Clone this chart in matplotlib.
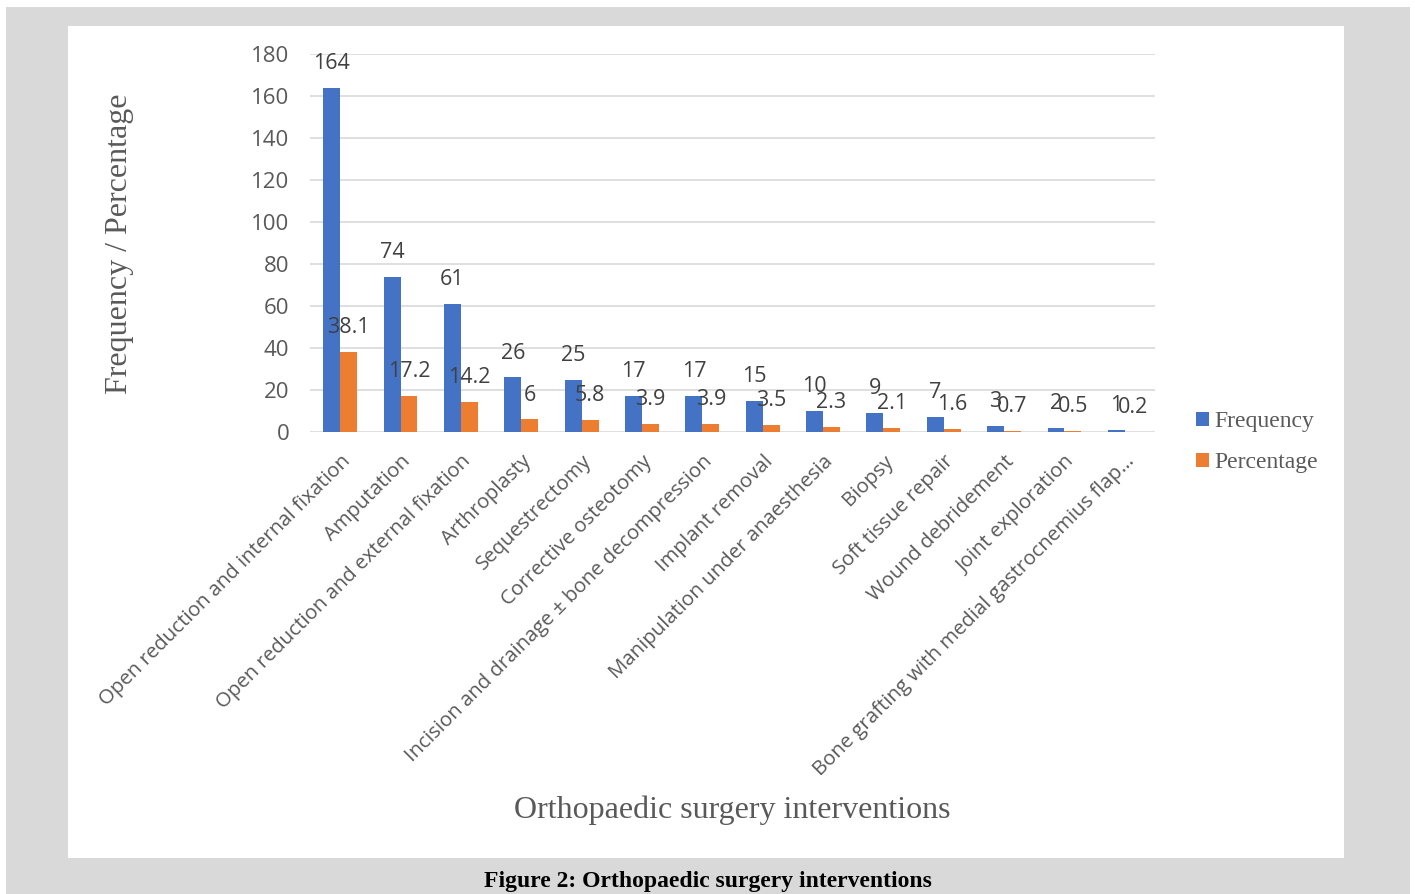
import numpy as np
import matplotlib.pyplot as plt
from matplotlib.patches import Rectangle

categories = ["Open reduction and internal fixation", "Amputation",
              "Open reduction and external fixation", "Arthroplasty",
              "Sequestrectomy", "Corrective osteotomy",
              "Incision and drainage \u00b1 bone decompression",
              "Implant removal", "Manipulation under anaesthesia", "Biopsy",
              "Soft tissue repair", "Wound debridement", "Joint exploration",
              "Bone grafting with medial gastrocnemius flap\u2026"]
frequency = [164, 74, 61, 26, 25, 17, 17, 15, 10, 9, 7, 3, 2, 1]
percentage = [38.1, 17.2, 14.2, 6, 5.8, 3.9, 3.9, 3.5, 2.3, 2.1, 1.6, 0.7, 0.5, 0.2]
freq_labels = ["164", "74", "61", "26", "25", "17", "17", "15", "10", "9", "7", "3", "2", "1"]
pct_labels = ["38.1", "17.2", "14.2", "6", "5.8", "3.9", "3.9", "3.5", "2.3", "2.1", "1.6", "0.7", "0.5", "0.2"]

W, H = 1415, 894
fig = plt.figure(figsize=(W / 100, H / 100), dpi=100)

# grey page and white chart panel
fig.patches.append(Rectangle((6 / W, 0), 1404 / W, 887 / H, transform=fig.transFigure,
                             facecolor="#d9d9d9", edgecolor="none", zorder=0))
fig.patches.append(Rectangle((68 / W, 1 - 858 / H), 1276 / W, 832 / H, transform=fig.transFigure,
                             facecolor="white", edgecolor="none", zorder=0))

ax = fig.add_axes([310 / W, 1 - 432 / H, 845 / W, 378 / H])
ax.set_zorder(2)
ax.set_facecolor("none")

x = np.arange(len(categories))
bw = 0.28
blue, orange = "#4472C4", "#ED7D31"
ax.bar(x - bw / 2, frequency, bw, color=blue, label="Frequency", zorder=3)
ax.bar(x + bw / 2, percentage, bw, color=orange, label="Percentage", zorder=3)

for xi, v, t in zip(x, frequency, freq_labels):
    ax.annotate(t, (xi - bw / 2, v), xytext=(0, 10), textcoords="offset points",
                ha="center", va="bottom", fontsize=15.5, color="#404040",
                family="Open Sans", zorder=4)
for xi, v, t in zip(x, percentage, pct_labels):
    ax.annotate(t, (xi + bw / 2, v), xytext=(0, 10), textcoords="offset points",
                ha="center", va="bottom", fontsize=15.5, color="#404040",
                family="Open Sans", zorder=4)

ax.set_xlim(-0.5, len(categories) - 0.5)
ax.set_ylim(0, 180)
ax.set_yticks(range(0, 181, 20))
ax.yaxis.grid(True, color="#d9d9d9", linewidth=1.2, zorder=0)
for s in ax.spines.values():
    s.set_visible(False)
ax.tick_params(length=0)
ax.tick_params(axis="y", labelsize=16, labelcolor="#595959", pad=15)
ax.set_yticklabels([str(v) for v in range(0, 181, 20)], family="Open Sans")
ax.set_xticks(x)
ax.set_xticklabels(categories, rotation=45, ha="right", rotation_mode="anchor",
                   fontsize=14.7, color="#595959", family="Open Sans")
ax.tick_params(axis="x", pad=14)

fig.text(120 / W, 1 - 244 / H, "Frequency / Percentage", rotation=90, ha="center",
         va="center", fontsize=23, color="#595959", family="Liberation Serif")
fig.text(732 / W, 1 - 810 / H, "Orthopaedic surgery interventions", ha="center",
         va="center", fontsize=23, color="#595959", family="Liberation Serif")
fig.text(708 / W, 1 - 882 / H, "Figure 2: Orthopaedic surgery interventions", ha="center",
         va="center", fontsize=17, fontweight="bold", color="black", family="Liberation Serif")

leg = ax.legend(loc="center left", bbox_to_anchor=(1175 / W, 1 - 442 / H),
                bbox_transform=fig.transFigure, frameon=False, handlelength=0.55,
                handleheight=0.55, handletextpad=0.2, labelspacing=0.85,
                prop={"family": "Liberation Serif", "size": 17})
for t in leg.get_texts():
    t.set_color("#595959")

fig.savefig("out.png", dpi=100, facecolor="white")
